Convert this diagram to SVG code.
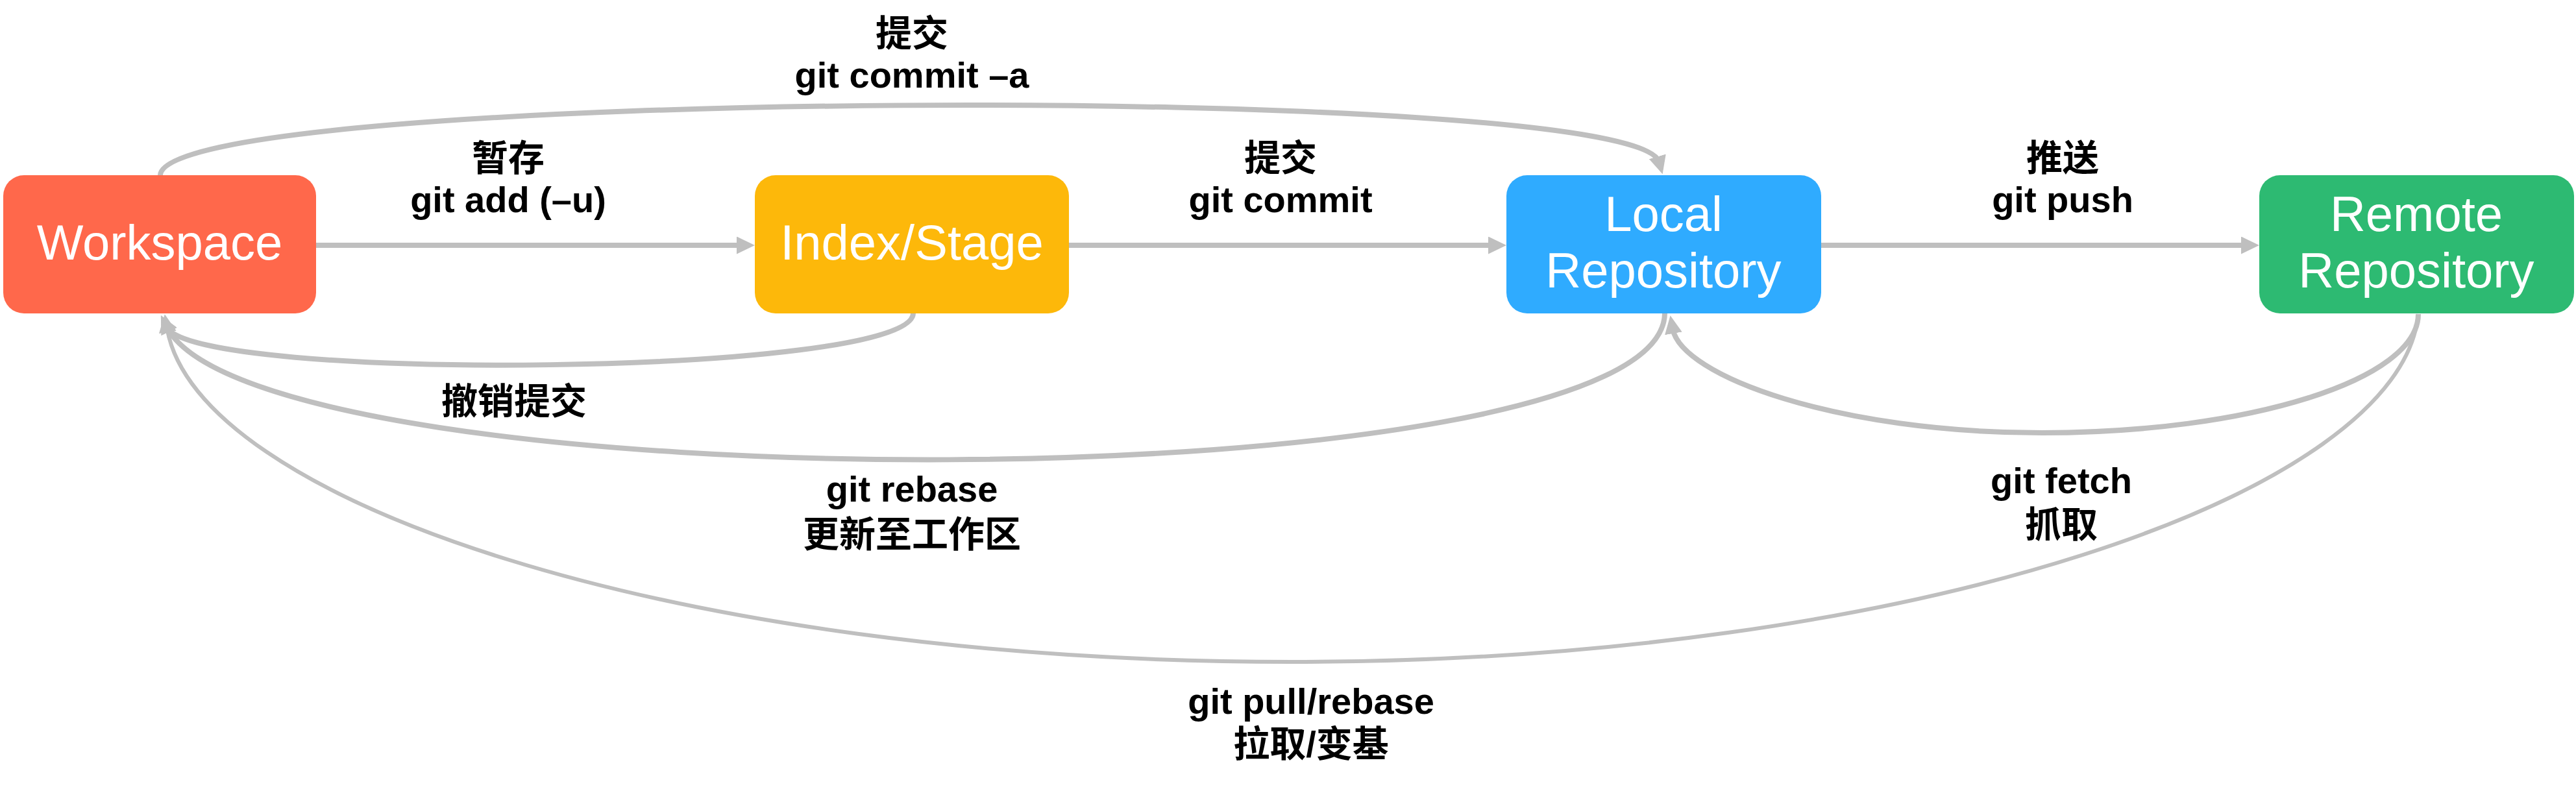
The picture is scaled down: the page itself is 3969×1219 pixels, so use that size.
<svg xmlns="http://www.w3.org/2000/svg" width="3969" height="1219" viewBox="0 0 3969 1219">
<style>
.box-text{font-family:"Liberation Sans","Noto Sans CJK SC",sans-serif;font-size:76px;fill:#fff;text-anchor:middle}
.lbl{font-family:"Liberation Sans","Noto Sans CJK SC",sans-serif;font-size:56px;font-weight:bold;fill:#000;text-anchor:middle}
.conn{fill:none;stroke:#BFBFBF;stroke-width:8}
.thin{stroke-width:6}
</style>
<defs>
<marker id="arr" viewBox="0 0 28 27" markerWidth="28" markerHeight="27" markerUnits="userSpaceOnUse" refX="8" refY="13.5" orient="auto">
<path d="M0,0 L28,13.5 L0,27 z" fill="#BFBFBF"/>
</marker>
</defs>
<rect width="3969" height="1219" fill="#fff"/>
<g id="connectors">
<path class="conn" d="M487,378 H1143" marker-end="url(#arr)"/>
<path class="conn" d="M1647,378 H2301" marker-end="url(#arr)"/>
<path class="conn" d="M2806,378 H3461" marker-end="url(#arr)"/>
<path class="conn" d="M247,270 C250,135 2520,125 2556,249" marker-end="url(#arr)"/>
<path class="conn" d="M1407,483 C1405,580 300,590 257,504" marker-end="url(#arr)"/>
<path class="conn" d="M2565,483 C2560,780 400,780 257,504" marker-end="url(#arr)"/>
<path class="conn" d="M3726,484 C3726,585 3466,667 3146,667 C2832,667 2590,580 2577,506" marker-end="url(#arr)"/>
<path class="conn thin" d="M3726,484 C3700,760 2949,1020 1990,1020 C1033,1020 300,770 257,504" marker-end="url(#arr)"/>
</g>
<g id="workspace">
<rect x="5" y="270" width="482" height="213" rx="32" fill="#FF684B"/>
<text class="box-text" x="246" y="400">Workspace</text>
</g>
<g id="index-stage">
<rect x="1163" y="270" width="484" height="213" rx="32" fill="#FDB80A"/>
<text class="box-text" x="1405" y="400">Index/Stage</text>
</g>
<g id="local-repository">
<rect x="2321" y="270" width="485" height="213" rx="32" fill="#2FABFF"/>
<text class="box-text" x="2563" y="356">Local</text>
<text class="box-text" x="2563" y="443">Repository</text>
</g>
<g id="remote-repository">
<rect x="3481" y="270" width="485" height="213" rx="32" fill="#2DBA72"/>
<text class="box-text" x="3723" y="356">Remote</text>
<text class="box-text" x="3723" y="443">Repository</text>
</g>
<g id="labels">
<text class="lbl" x="1405" y="71">提交</text>
<text class="lbl" x="1405" y="135">git commit –a</text>
<text class="lbl" x="783" y="263">暂存</text>
<text class="lbl" x="783" y="327">git add (–u)</text>
<text class="lbl" x="1973" y="263">提交</text>
<text class="lbl" x="1973" y="327">git commit</text>
<text class="lbl" x="3178" y="263">推送</text>
<text class="lbl" x="3178" y="327">git push</text>
<text class="lbl" x="792" y="638">撤销提交</text>
<text class="lbl" x="1405" y="773">git rebase</text>
<text class="lbl" x="1405" y="843">更新至工作区</text>
<text class="lbl" x="3176" y="760">git fetch</text>
<text class="lbl" x="3176" y="828">抓取</text>
<text class="lbl" x="2020" y="1100">git pull/rebase</text>
<text class="lbl" x="2020" y="1166">拉取/变基</text>
</g>
</svg>
